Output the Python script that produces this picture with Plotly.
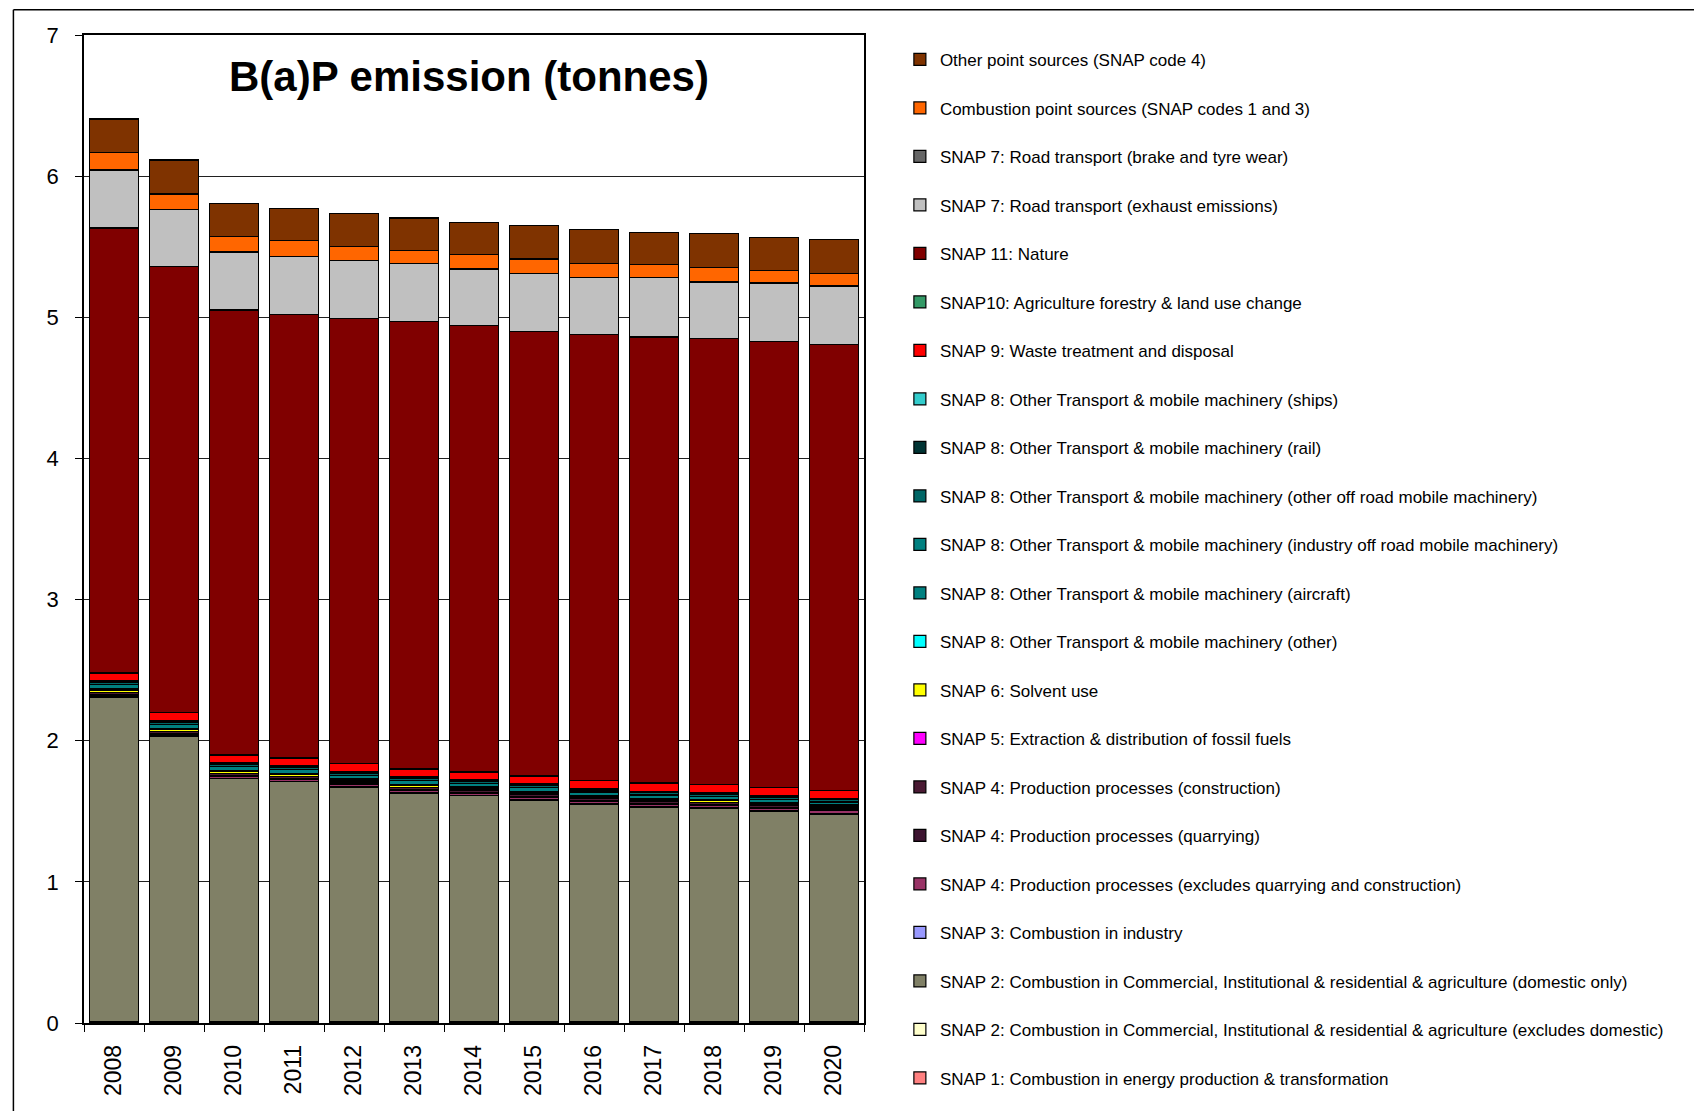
import plotly.graph_objects as go

years = ["2008", "2009", "2010", "2011", "2012", "2013", "2014",
         "2015", "2016", "2017", "2018", "2019", "2020"]

# Stack order: bottom -> top
snap1 = [0.004] * 13
snap2_excl = [0.006] * 13
snap2_dom = [2.30, 2.02, 1.72, 1.70, 1.66, 1.62, 1.60, 1.57, 1.54, 1.52, 1.51, 1.49, 1.47]
snap3 = [0.003] * 13
snap4_excl = [0.008, 0.010, 0.012, 0.013, 0.014, 0.015, 0.016, 0.017, 0.018, 0.018, 0.019, 0.020, 0.020]
snap4_quarry = [0.006] * 13
snap4_constr = [0.015] * 13
snap5 = [0.002] * 13
snap6 = [0.015, 0.014, 0.013, 0.012, 0.012, 0.011, 0.011, 0.010, 0.010, 0.010, 0.009, 0.009, 0.009]
snap8_other = [0.003] * 13
snap8_aircraft = [0.006] * 13
snap8_ind = [0.030, 0.028, 0.027, 0.026, 0.025, 0.025, 0.024, 0.024, 0.023, 0.023, 0.023, 0.022, 0.022]
snap8_offroad = [0.015] * 13
snap8_rail = [0.008] * 13
snap8_ships = [0.004] * 13
snap9 = [0.055, 0.055, 0.055, 0.055, 0.055, 0.055, 0.055, 0.055, 0.055, 0.055, 0.055, 0.055, 0.055]
snap10 = [0.002] * 13
snap11 = [3.15, 3.16, 3.15, 3.14, 3.15, 3.17, 3.16, 3.15, 3.16, 3.16, 3.16, 3.16, 3.16]
snap7_exhaust = [0.41, 0.40, 0.41, 0.41, 0.41, 0.41, 0.40, 0.41, 0.40, 0.42, 0.40, 0.41, 0.41]
snap7_brake = [0.003] * 13
comb_point = [0.12, 0.11, 0.11, 0.11, 0.10, 0.09, 0.10, 0.10, 0.10, 0.09, 0.10, 0.09, 0.09]
other_point = [0.24, 0.24, 0.23, 0.23, 0.23, 0.23, 0.23, 0.24, 0.24, 0.23, 0.24, 0.23, 0.24]

series = [
    ("SNAP 1: Combustion in energy production & transformation", snap1, "#FF8080"),
    ("SNAP 2: Combustion in Commercial, Institutional & residential & agriculture (excludes domestic)", snap2_excl, "#FFFFCC"),
    ("SNAP 2: Combustion in Commercial, Institutional & residential & agriculture (domestic only)", snap2_dom, "#808066"),
    ("SNAP 3: Combustion in industry", snap3, "#9999FF"),
    ("SNAP 4: Production processes (excludes quarrying and construction)", snap4_excl, "#993366"),
    ("SNAP 4: Production processes (quarrying)", snap4_quarry, "#3D1430"),
    ("SNAP 4: Production processes (construction)", snap4_constr, "#4A1A33"),
    ("SNAP 5: Extraction & distribution of fossil fuels", snap5, "#FF00FF"),
    ("SNAP 6: Solvent use", snap6, "#FFFF00"),
    ("SNAP 8: Other Transport & mobile machinery (other)", snap8_other, "#00FFFF"),
    ("SNAP 8: Other Transport & mobile machinery (aircraft)", snap8_aircraft, "#008080"),
    ("SNAP 8: Other Transport & mobile machinery (industry off road mobile machinery)", snap8_ind, "#008080"),
    ("SNAP 8: Other Transport & mobile machinery (other off road mobile machinery)", snap8_offroad, "#006666"),
    ("SNAP 8: Other Transport & mobile machinery (rail)", snap8_rail, "#003333"),
    ("SNAP 8: Other Transport & mobile machinery (ships)", snap8_ships, "#33CCCC"),
    ("SNAP 9: Waste treatment and disposal", snap9, "#FF0000"),
    ("SNAP10: Agriculture forestry & land use change", snap10, "#339966"),
    ("SNAP 11: Nature", snap11, "#800000"),
    ("SNAP 7: Road transport (exhaust emissions)", snap7_exhaust, "#C0C0C0"),
    ("SNAP 7: Road transport (brake and tyre wear)", snap7_brake, "#666666"),
    ("Combustion point sources (SNAP codes 1 and 3)", comb_point, "#FF6600"),
    ("Other point sources (SNAP code 4)", other_point, "#7F3300"),
]

fig = go.Figure()
n = len(series)
for i, (name, vals, col) in enumerate(series):
    fig.add_trace(go.Bar(
        x=years, y=vals, name=name, legendgroup=f"g{i}", legendrank=100 + (n - i),
        marker=dict(color=col, line=dict(color="black", width=1.2)),
    ))

FONT = "Liberation Sans, Arial, sans-serif"

fig.update_layout(
    width=1694, height=1103,
    barmode="stack", bargap=0.19,
    paper_bgcolor="white", plot_bgcolor="white",
    margin=dict(l=76, r=838, t=27, b=88),
    font=dict(family=FONT, color="black"),
    showlegend=True,
    legend=dict(
        x=1.046, xanchor="left", y=0.993, yanchor="top",
        traceorder="grouped", tracegroupgap=23.4, maxheight=1100,
        font=dict(family=FONT, size=17, color="black"),
        bgcolor="rgba(0,0,0,0)",
    ),
    annotations=[dict(
        text="<b>B(a)P emission (tonnes)</b>", xref="paper", yref="paper",
        x=0.493, y=0.958, xanchor="center", yanchor="middle",
        showarrow=False, font=dict(family=FONT, size=42, color="black"),
    )],
    shapes=[
        dict(type="line", xref="paper", yref="paper", x0=-0.0905, x1=2.3, y0=1.0255, y1=1.0255,
             line=dict(color="black", width=1.5)),
        dict(type="line", xref="paper", yref="paper", x0=-0.0905, x1=-0.0905, y0=1.0255, y1=-0.2,
             line=dict(color="black", width=1.5)),
    ],
)

fig.update_yaxes(
    range=[0, 7], dtick=1, showgrid=True, gridcolor="#202020", gridwidth=1,
    showline=True, linecolor="black", linewidth=1.5, mirror=True,
    ticks="outside", ticklen=7, tickcolor="black", ticklabelstandoff=12,
    tickfont=dict(family=FONT, size=22, color="black"), zeroline=False,
)
fig.update_xaxes(
    showline=True, linecolor="black", linewidth=1.5, mirror=True,
    ticks="outside", ticklen=7, tickcolor="black", tickson="boundaries",
    ticklabelstandoff=11,
    tickangle=-90, tickfont=dict(family=FONT, size=23, color="black"),
)

fig.write_html("out.html")
